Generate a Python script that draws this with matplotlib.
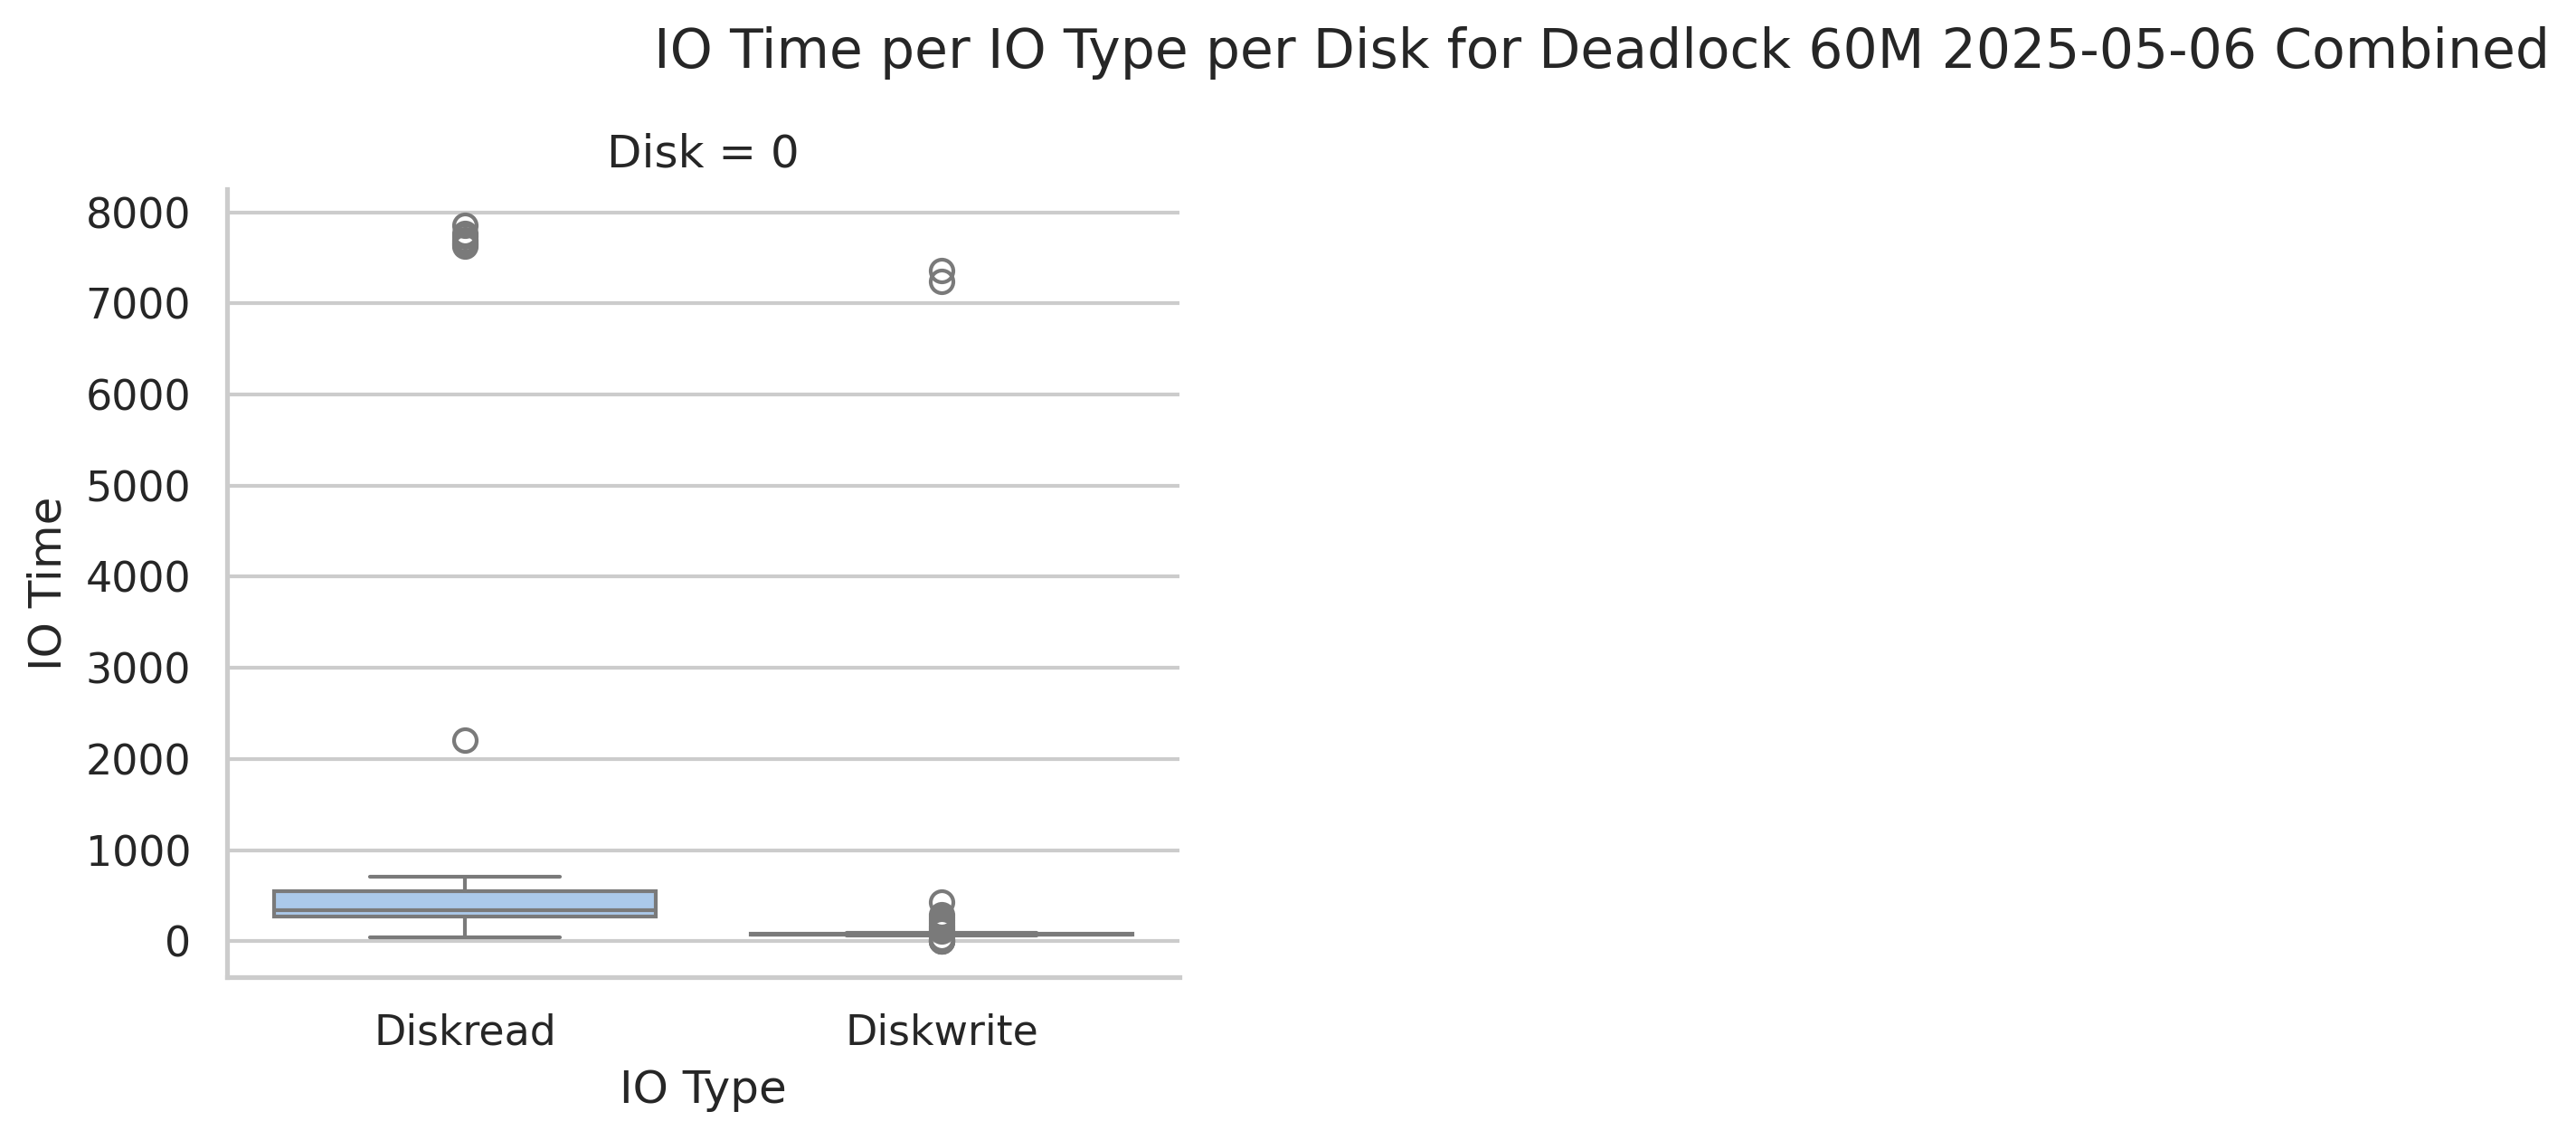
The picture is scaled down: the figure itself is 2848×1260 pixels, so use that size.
import matplotlib
matplotlib.use("Agg")
import matplotlib.pyplot as plt
import seaborn as sns
import pandas as pd

# data
io_types = ["Diskread", "Diskwrite"]
disk_ids = [0]
disk_read_times = [40, 95, 150, 190, 215, 232, 245, 255, 262, 268,
                   274, 280, 287, 294, 300, 306, 312, 318, 325, 332,
                   340, 352, 368, 385, 405, 428, 450, 475, 500, 525,
                   551, 703, 2210, 7630, 7645, 7660, 7680, 7700, 7740, 7770,
                   7860]
disk_write_times = [0, 0, 3, 12, 30, 60, 62, 63, 64, 65,
                    66, 66, 67, 67, 68, 68, 69, 69, 69, 70,
                    70, 70, 71, 71, 71, 71, 72, 72, 72, 73,
                    73, 74, 74, 75, 75, 76, 76, 77, 77, 78,
                    78, 79, 80, 84, 88, 93, 110, 130, 150, 175,
                    200, 230, 265, 290, 430, 7240, 7360]
title = "IO Time per IO Type per Disk for Deadlock 60M 2025-05-06 Combined"

sns.set_theme(style="whitegrid", context="notebook")

df = pd.DataFrame({
    "IO Type": [io_types[0]] * len(disk_read_times) + [io_types[1]] * len(disk_write_times),
    "IO Time": disk_read_times + disk_write_times,
})

fig = plt.figure(figsize=(2848 / 300, 1260 / 300), dpi=300)
ax = fig.add_axes([0.088, 0.143, 0.37, 0.691])
sns.boxplot(data=df, x="IO Type", y="IO Time", color="#a1c9f4", ax=ax)
sns.despine(ax=ax)
ax.set_title(f"Disk = {disk_ids[0]}")

fig.text(0.622, 0.9405, title, ha="center", va="baseline", fontsize=14.4)

fig.savefig("out.png", dpi=300)
